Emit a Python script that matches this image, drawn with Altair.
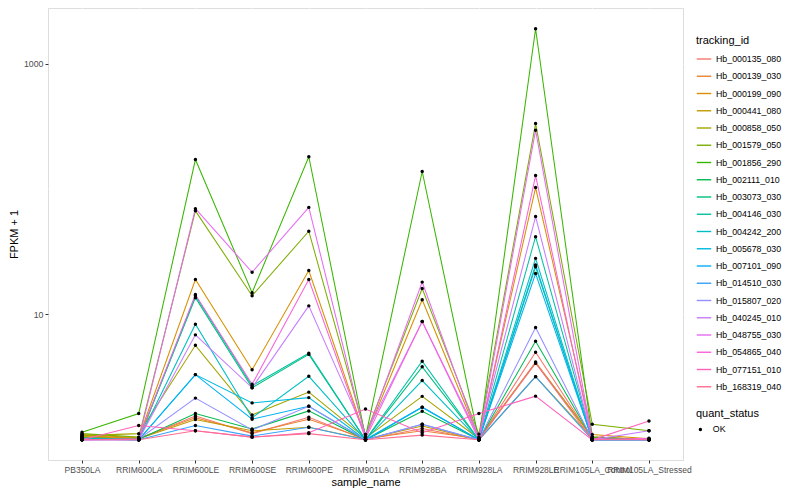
import altair as alt
import pandas as pd

samples = ["PB350LA", "RRIM600LA", "RRIM600LE", "RRIM600SE", "RRIM600PE",
           "RRIM901LA", "RRIM928BA", "RRIM928LA", "RRIM928LE",
           "RRIM105LA_Control", "RRIM105LA_Stressed"]

tracking_ids = ["Hb_000135_080", "Hb_000139_030", "Hb_000199_090", "Hb_000441_080",
                "Hb_000858_050", "Hb_001579_050", "Hb_001856_290", "Hb_002111_010",
                "Hb_003073_030", "Hb_004146_030", "Hb_004242_200", "Hb_005678_030",
                "Hb_007101_090", "Hb_014510_030", "Hb_015807_020", "Hb_040245_010",
                "Hb_048755_030", "Hb_054865_040", "Hb_077151_010", "Hb_168319_040"]

colors = ["#F8766D", "#EA8331", "#D89000", "#C09B00", "#A3A500", "#7CAE00", "#39B600",
          "#00BB4E", "#00BF7D", "#00C1A3", "#00BFC4", "#00BAE0", "#00B0F6", "#35A2FF",
          "#9590FF", "#C77CFF", "#E76BF3", "#FA62DB", "#FF62BC", "#FF6C91"]

# FPKM + 1 per sample (order of `samples`)
hb_000135_080 = [1.05, 1.02, 1.55, 1.12, 1.51, 1.00, 1.23, 1.00, 5.00, 1.02, 1.00]
hb_000139_030 = [1.08, 1.03, 1.50, 1.14, 1.46, 1.02, 1.18, 1.02, 4.17, 1.05, 1.01]
hb_000199_090 = [1.10, 1.04, 19.0, 3.62, 22.4, 1.05, 13.1, 1.03, 102.8, 1.10, 1.02]
hb_000441_080 = [1.06, 1.02, 1.45, 1.18, 1.26, 1.01, 1.29, 1.00, 3.19, 1.03, 1.00]
hb_000858_050 = [1.08, 1.12, 5.67, 1.58, 2.40, 1.03, 2.22, 1.02, 4.08, 1.05, 1.00]
hb_001579_050 = [1.12, 1.05, 67.0, 14.1, 46.1, 1.10, 16.1, 1.11, 333.0, 1.33, 1.18]
hb_001856_290 = [1.15, 1.62, 172.0, 14.9, 181.0, 1.05, 138.0, 1.00, 1898.0, 1.05, 1.00]
hb_002111_010 = [1.03, 1.01, 1.62, 1.22, 1.70, 1.00, 1.69, 1.00, 6.10, 1.02, 1.00]
hb_003073_030 = [1.04, 1.01, 13.6, 2.60, 4.80, 1.00, 3.82, 1.00, 24.0, 1.00, 1.00]
hb_004146_030 = [1.02, 1.00, 14.1, 2.70, 4.90, 1.00, 4.23, 1.00, 41.7, 1.00, 1.00]
hb_004242_200 = [1.02, 1.00, 8.36, 1.50, 3.21, 1.00, 2.97, 1.00, 28.0, 1.00, 1.00]
hb_005678_030 = [1.01, 1.00, 3.31, 1.97, 2.17, 1.00, 1.82, 1.00, 24.8, 1.00, 1.00]
hb_007101_090 = [1.01, 1.00, 3.31, 1.46, 1.85, 1.00, 1.82, 1.00, 21.2, 1.00, 1.00]
hb_014510_030 = [1.00, 1.00, 1.30, 1.07, 1.26, 1.00, 1.33, 1.00, 3.19, 1.00, 1.00]
hb_015807_020 = [1.00, 1.01, 2.15, 1.20, 1.85, 1.00, 1.33, 1.00, 7.87, 1.00, 1.00]
hb_040245_010 = [1.00, 1.00, 6.87, 2.60, 11.7, 1.10, 8.77, 1.05, 60.3, 1.00, 1.18]
hb_048755_030 = [1.00, 1.00, 69.7, 21.7, 71.4, 1.05, 18.1, 1.03, 294.0, 1.02, 1.00]
hb_054865_040 = [1.00, 1.02, 14.4, 2.77, 19.0, 1.02, 8.77, 1.00, 128.0, 1.00, 1.03]
hb_077151_010 = [1.00, 1.30, 1.18, 1.05, 1.14, 1.76, 1.14, 1.62, 2.23, 1.00, 1.41]
hb_168319_040 = [1.00, 1.00, 1.18, 1.05, 1.12, 1.00, 1.09, 1.00, 4.10, 1.00, 1.00]

series = [hb_000135_080, hb_000139_030, hb_000199_090, hb_000441_080, hb_000858_050,
          hb_001579_050, hb_001856_290, hb_002111_010, hb_003073_030, hb_004146_030,
          hb_004242_200, hb_005678_030, hb_007101_090, hb_014510_030, hb_015807_020,
          hb_040245_010, hb_048755_030, hb_054865_040, hb_077151_010, hb_168319_040]

minor_breaks = [1, 100]
major_breaks = [10, 1000]

rows = []
for tid, vals in zip(tracking_ids, series):
    for s, v in zip(samples, vals):
        rows.append({"tracking_id": tid, "sample_name": s, "fpkm1": v, "quant_status": "OK"})
df = pd.DataFrame(rows)
minor_df = pd.DataFrame({"fpkm1": minor_breaks})

yscale = alt.Scale(type="log", domain=[0.69, 2780], nice=False)
yaxis = alt.Axis(values=major_breaks, format="d", title="FPKM + 1", tickSize=3,
                 labelPadding=2, titlePadding=4, domain=False, gridColor="white",
                 gridWidth=1.1, tickColor="#333333")
xenc = alt.X("sample_name:N", sort=samples, title="sample_name",
             scale=alt.Scale(type="point", padding=0.6),
             axis=alt.Axis(labelAngle=0, labelOverlap=False, tickSize=3, labelPadding=2,
                           titlePadding=3, domain=False, gridColor="white", gridWidth=1.1,
                           grid=True, tickColor="#333333", labelFontSize=8.5))

minor = alt.Chart(minor_df).mark_rule(color="white", strokeWidth=0.55).encode(
    y=alt.Y("fpkm1:Q", scale=yscale, axis=yaxis)
)

lines = alt.Chart(df).mark_line(strokeWidth=1.05).encode(
    x=xenc,
    y=alt.Y("fpkm1:Q", scale=yscale, axis=yaxis),
    color=alt.Color("tracking_id:N",
                    scale=alt.Scale(domain=tracking_ids, range=colors),
                    legend=alt.Legend(title="tracking_id", orient="none", legendX=648,
                                      legendY=27, symbolType="stroke", symbolSize=210,
                                      symbolStrokeWidth=1.4, rowPadding=4.25,
                                      labelOffset=4, titlePadding=5, symbolLimit=40)),
    detail="tracking_id:N",
)

points = alt.Chart(df).mark_point(filled=True, size=12, opacity=1, color="black").encode(
    x=xenc,
    y=alt.Y("fpkm1:Q", scale=yscale, axis=yaxis),
    shape=alt.Shape("quant_status:N", scale=alt.Scale(range=["circle"]),
                    legend=alt.Legend(title="quant_status", orient="none", legendX=648,
                                      legendY=400, symbolFillColor="black",
                                      symbolStrokeColor="black", symbolSize=12,
                                      labelOffset=8, titlePadding=6)),
)

chart = alt.layer(minor, lines, points).properties(
    width=635, height=452, padding={"left": 0, "top": 0, "right": 0, "bottom": 0}
).configure_view(fill="#EBEBEB", stroke=None).configure(
    font="Liberation Sans"
).configure_axis(
    labelColor="#4D4D4D", labelFontSize=8.8, titleFontSize=11, titleColor="black",
    titleFontWeight="normal"
).configure_legend(
    titleFontSize=11, titleFontWeight="normal", labelFontSize=8.8, labelColor="black",
    titleColor="black"
)

chart.save("out.html", embed_options={"renderer": "svg", "actions": False})
